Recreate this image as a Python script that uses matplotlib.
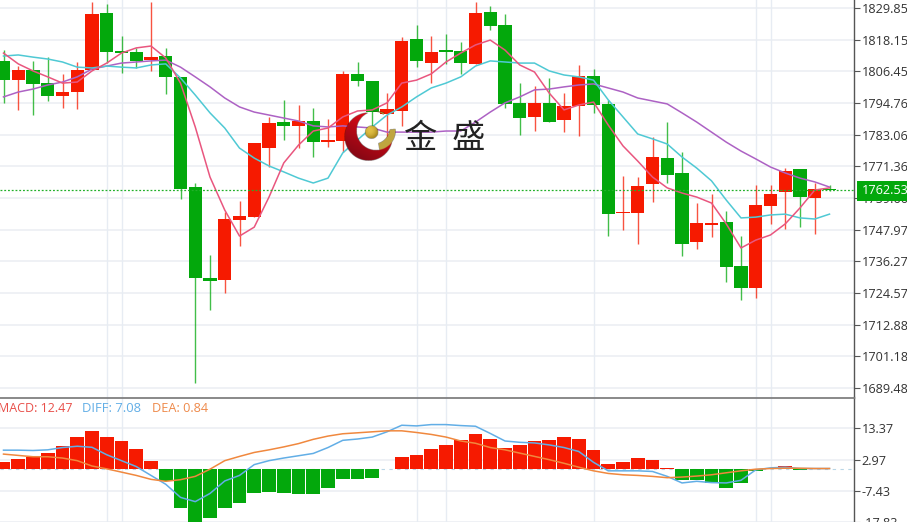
import numpy as np
import matplotlib
matplotlib.use("Agg")
import matplotlib.pyplot as plt

# candles, oldest first
opens = [1810.3, 1803.2, 1806.9, 1802.1, 1797.3, 1798.8, 1806.9, 1828.0, 1814.0, 1813.6, 1810.6, 1812.1, 1804.4, 1763.7, 1730.1,
         1729.4, 1751.5, 1752.6, 1778.1, 1787.7, 1786.3, 1788.1, 1780.3, 1780.7, 1805.5, 1802.9, 1790.7, 1791.8, 1818.4, 1809.5,
         1814.3, 1814.0, 1809.2, 1828.4, 1823.6, 1794.8, 1789.6, 1794.8, 1788.5, 1793.6, 1804.7, 1794.4, 1754.1, 1754.1, 1764.8,
         1774.4, 1768.9, 1743.4, 1749.7, 1750.8, 1734.5, 1726.4, 1756.7, 1761.9, 1770.4, 1759.7, 1763.0]
closes = [1803.2, 1806.9, 1801.8, 1797.3, 1798.8, 1806.9, 1827.6, 1813.6, 1813.2, 1810.3, 1811.7, 1804.4, 1763.0, 1730.1, 1729.0,
          1751.9, 1753.0, 1780.0, 1787.4, 1786.3, 1788.1, 1780.3, 1781.1, 1805.5, 1802.9, 1791.4, 1792.5, 1817.7, 1810.3, 1813.6,
          1813.6, 1809.5, 1828.0, 1823.2, 1794.4, 1789.2, 1794.8, 1787.7, 1793.6, 1804.7, 1794.0, 1753.7, 1754.5, 1764.1, 1774.8,
          1768.2, 1742.7, 1750.4, 1750.4, 1734.2, 1726.4, 1757.1, 1761.1, 1769.6, 1760.0, 1763.0, 1762.53]
highs = [1814.3, 1808.4, 1810.3, 1811.7, 1805.5, 1809.9, 1832.1, 1831.3, 1819.5, 1815.1, 1832.1, 1815.1, 1804.4, 1765.2, 1738.6,
         1754.5, 1758.5, 1780.0, 1789.6, 1795.9, 1794.0, 1792.9, 1788.8, 1806.6, 1809.9, 1802.9, 1798.4, 1819.1, 1823.6, 1819.5,
         1820.2, 1817.3, 1832.1, 1830.6, 1827.6, 1802.1, 1801.0, 1804.0, 1798.4, 1808.8, 1807.3, 1795.9, 1767.8, 1767.4, 1782.2,
         1787.7, 1776.6, 1757.8, 1761.1, 1754.9, 1745.6, 1764.5, 1764.5, 1770.7, 1770.4, 1765.2, 1764.5]
lows = [1794.8, 1792.2, 1790.3, 1795.5, 1792.9, 1792.5, 1806.9, 1809.5, 1805.8, 1807.7, 1806.6, 1798.1, 1759.3, 1691.3, 1718.3,
        1724.6, 1741.9, 1752.6, 1771.1, 1781.1, 1778.1, 1774.8, 1778.5, 1776.6, 1801.0, 1785.9, 1781.1, 1786.3, 1808.0, 1802.1,
        1809.2, 1805.5, 1809.2, 1821.7, 1792.9, 1782.9, 1784.4, 1787.7, 1784.0, 1782.6, 1791.1, 1745.6, 1747.8, 1742.7, 1758.2,
        1765.2, 1738.2, 1740.8, 1745.3, 1728.6, 1722.0, 1722.7, 1750.1, 1748.2, 1748.9, 1746.4, 1762.2]

ma5 = [1813.2, 1809.2, 1806.6, 1804.4, 1802.1, 1802.5, 1806.6, 1809.5, 1813.2, 1815.1, 1815.8, 1811.4, 1802.1, 1785.9, 1767.4,
       1755.2, 1745.6, 1748.9, 1760.0, 1772.6, 1779.2, 1784.4, 1785.5, 1789.6, 1791.8, 1792.2, 1794.8, 1802.1, 1803.2, 1805.5,
       1809.9, 1813.2, 1816.2, 1818.0, 1814.3, 1808.8, 1806.2, 1798.4, 1792.2, 1794.0, 1795.1, 1786.6, 1778.9, 1773.3, 1767.4,
       1763.4, 1761.5, 1760.0, 1757.8, 1750.1, 1741.2, 1744.1, 1746.0, 1750.1, 1756.0, 1762.6, 1763.4]
ma10 = [1812.1, 1812.5, 1811.7, 1811.0, 1809.9, 1808.0, 1807.7, 1808.4, 1808.0, 1807.7, 1808.8, 1809.2, 1804.0, 1797.7, 1791.1,
        1785.5, 1778.1, 1774.4, 1771.5, 1769.3, 1767.0, 1765.2, 1767.0, 1776.3, 1781.1, 1785.9, 1790.3, 1793.3, 1797.0, 1800.3,
        1802.1, 1804.4, 1808.4, 1810.3, 1809.9, 1809.5, 1809.5, 1806.6, 1805.1, 1804.4, 1803.2, 1795.9, 1789.6, 1783.3, 1781.5,
        1779.6, 1774.8, 1770.7, 1766.0, 1758.9, 1752.3, 1752.6, 1753.4, 1753.7, 1752.3, 1751.9, 1753.7]
ma20 = [1797.0, 1798.8, 1799.9, 1801.4, 1802.5, 1804.4, 1807.3, 1808.4, 1809.5, 1809.9, 1810.3, 1810.6, 1808.0, 1804.4, 1800.7,
        1796.6, 1793.3, 1791.4, 1790.3, 1789.2, 1788.1, 1786.3, 1785.9, 1786.3, 1785.9, 1785.5, 1784.0, 1784.0, 1784.0, 1784.0,
        1784.4, 1784.4, 1787.7, 1791.4, 1794.8, 1797.0, 1799.6, 1799.9, 1800.7, 1801.4, 1801.8, 1800.3, 1798.8, 1796.6, 1795.5,
        1794.4, 1791.1, 1787.7, 1784.0, 1780.3, 1777.0, 1774.1, 1771.1, 1768.9, 1767.0, 1765.6, 1763.7]

macd = [2.19, 3.28, 3.72, 5.03, 7.54, 10.38, 12.47, 10.49, 9.18, 6.56, 2.62, -4.26, -13.0, -18.7, -16.4,
        -13.1, -11.4, -8.1, -7.76, -8.31, -8.42, -8.42, -6.56, -3.5, -3.5, -3.17, -0.22, 3.83, 4.59, 6.45,
        7.98, 9.4, 11.37, 9.73, 7.0, 7.76, 9.18, 9.51, 10.49, 9.95, 6.01, 1.53, 2.3, 3.5, 2.84,
        0.05, -3.72, -3.72, -4.92, -6.45, -4.81, -0.66, 0.22, 0.77, -0.33, -0.11, -0.05]
diff = [6.12, 6.12, 6.01, 6.23, 7.0, 7.43, 7.08, 4.59, 2.62, 0.66, -2.3, -5.25, -9.62, -11.04, -8.31,
        -4.15, -2.3, 1.31, 2.62, 3.5, 4.26, 5.03, 7.0, 9.4, 9.84, 10.49, 12.24, 14.43, 14.21, 14.65,
        14.65, 14.32, 14.1, 11.7, 9.18, 8.74, 8.53, 7.87, 7.0, 5.68, 2.08, -0.77, -0.77, -0.77, -0.98,
        -2.62, -4.81, -4.26, -4.7, -4.81, -3.93, -0.44, 0.22, 0.44, 0.0, 0.0, 0.0]
dea = [4.81, 4.37, 3.93, 3.93, 3.5, 2.62, 0.84, -0.11, -1.2, -2.3, -3.61, -4.26, -3.72, -2.62, -0.22,
       2.62, 4.04, 5.36, 6.23, 7.21, 8.31, 9.73, 10.82, 11.59, 11.91, 12.24, 12.57, 12.57, 12.02, 11.37,
       10.49, 9.18, 8.42, 7.0, 6.23, 5.14, 4.04, 2.95, 1.75, 0.44, -0.77, -1.64, -2.08, -2.3, -2.62,
       -3.06, -2.84, -2.51, -2.08, -1.42, -0.77, -0.22, 0.0, 0.1, 0.1, 0.0, 0.0]

price_ticks = [1829.85, 1818.15, 1806.45, 1794.76, 1783.06, 1771.36, 1759.66, 1747.97, 1736.27, 1724.57, 1712.88, 1701.18, 1689.48]
macd_ticks = [13.37, 2.97, -7.43, -17.83]
vgrid_idx = [7, 8, 28, 30, 40, 51, 52]
last_price = 1762.53

RED = '#f61a00'
GREEN = '#03a80c'
GRID = '#eceff3'
FONT = 'Open Sans'

plt.rcParams['font.family'] = FONT

W, H = 907, 522
SPLIT = 397.5
AXIS_X = 854
fig = plt.figure(figsize=(W / 100, H / 100), dpi=100)
ax = fig.add_axes([0, 1 - SPLIT / H, AXIS_X / W, SPLIT / H])
ax2 = fig.add_axes([0, 0, AXIS_X / W, 1 - SPLIT / H])

x = np.arange(len(opens))
xlim = (-3.5 / 14.75, (AXIS_X - 3.5) / 14.75)

# ---- price panel ----
for i in x:
    col = RED if closes[i] >= opens[i] else GREEN
    ax.vlines(i, lows[i], highs[i], color=col, linewidth=1.0, alpha=0.75, zorder=3)
    ax.bar(i, abs(closes[i] - opens[i]), bottom=min(opens[i], closes[i]), width=0.9, color=col, zorder=4)

ax.plot(x, ma20, color='#ad62c4', linewidth=1.1, zorder=5)
ax.plot(x, ma10, color='#4fc9d4', linewidth=1.1, zorder=5)
ax.plot(x, ma5, color='#e9567f', linewidth=1.1, zorder=5)
ax.axhline(last_price, color='#22b02a', linestyle=(0, (1.5, 1.5)), linewidth=0.9, zorder=6)

ax.set_xlim(xlim)
ax.set_ylim(1832.8 - 0.3694 * SPLIT, 1832.8)
ax.set_yticks(price_ticks)
ax.set_yticklabels([f'{t:.2f}' for t in price_ticks])

# ---- macd panel ----
bar_cols = [RED if v >= 0 else GREEN for v in macd]
ax2.bar(x, macd, width=0.92, color=bar_cols, zorder=3)
ax2.axhline(0, color='#b9d6e6', linestyle=(0, (3, 4)), linewidth=0.8, zorder=2)
ax2.plot(x, diff, color='#62aee6', linewidth=1.1, zorder=4)
ax2.plot(x, dea, color='#f0883e', linewidth=1.1, zorder=5)
ax2.set_xlim(xlim)
ax2.set_ylim(-0.328 * (H - 469.7), 0.328 * (469.7 - SPLIT))
ax2.set_yticks(macd_ticks)
ax2.set_yticklabels([f'{t:.2f}' for t in macd_ticks])

for a in (ax, ax2):
    a.yaxis.tick_right()
    a.tick_params(axis='y', length=4, width=0.8, color='#555555', labelsize=9.1, pad=1.5, labelcolor='#333333')
    a.set_xticks([])
    a.grid(False)
    a.set_axisbelow(True)
    for t in a.get_yticks():
        a.axhline(t, color=GRID, linewidth=1.2, zorder=1)
    for i in vgrid_idx:
        a.axvline(i, color='#e7ecf3', linewidth=1.0, zorder=1)
    for s in ('left', 'top', 'bottom'):
        a.spines[s].set_visible(False)
    a.spines['right'].set_color('#555555')
    a.spines['right'].set_linewidth(1.0)
    a.patch.set_alpha(0)

# separator between the panels, drawn in pixel coords below
over = fig.add_axes([0, 0, 1, 1], zorder=10)
over.set_xlim(0, W)
over.set_ylim(H, 0)
over.axis('off')
over.patch.set_alpha(0)
over.plot([0, AXIS_X], [SPLIT, SPLIT], color='#808080', linewidth=1.3)

# last price tag
over.fill_between([857, W], 181, 200.5, color='#03a80c', linewidth=0)
over.text(861.5, 191, f'{last_price:.2f}', color='white', fontsize=9.1, ha='left', va='center')

# macd legend
over.text(-2, 408.5, 'MACD: 12.47', color='#e8504a', fontsize=9.0, va='center')
over.text(82, 408.5, 'DIFF: 7.08', color='#62aee6', fontsize=9.4, va='center')
over.text(152, 408.5, 'DEA: 0.84', color='#ee8a4b', fontsize=9.2, va='center')

# watermark logo
gx, gy = np.meshgrid(np.arange(340, 400, 0.25), np.arange(108, 166, 0.25))
outer = (gx - 368.5) ** 2 + (gy - 136.5) ** 2 <= 24 ** 2
inner = (gx - 376) ** 2 + (gy - 130.5) ** 2 <= 19.5 ** 2
img = np.zeros(gx.shape + (4,))
shade = np.clip((gy - 112) / 50 + (395 - gx) / 90 - 0.4, 0, 1)
crescent = outer & ~inner
img[crescent, 0] = 0.85 - 0.35 * shade[crescent]
img[crescent, 1] = 0.03
img[crescent, 2] = 0.08
img[crescent, 3] = 1
ang = np.degrees(np.arctan2(gy - 130.5, gx - 376))
ring = inner & ((gx - 373.5) ** 2 + (gy - 127.5) ** 2 > 18 ** 2 - 60)
gold = ring & (((ang > -140) & (ang < -65)) | ((ang > -5) & (ang < 80)))
img[gold] = (0.75, 0.65, 0.25, 1)
ball = (gx - 371.5) ** 2 + (gy - 132) ** 2 <= 6.5 ** 2
ball_shade = np.clip(1 - ((gx - 370) ** 2 + (gy - 130) ** 2) / 60, 0, 1)
img[ball, 0] = 0.68 + 0.2 * ball_shade[ball]
img[ball, 1] = 0.55 + 0.2 * ball_shade[ball]
img[ball, 2] = 0.12 + 0.15 * ball_shade[ball]
img[ball, 3] = 1
over.imshow(img, extent=(340, 400, 166, 108), aspect='auto', zorder=8, interpolation='bilinear')
over.set_xlim(0, W)
over.set_ylim(H, 0)
cjk = ['Noto Sans CJK SC', 'DejaVu Sans']
over.text(420, 138, '金', family=cjk, fontsize=24, color='#222222', ha='center', va='center', zorder=9)
over.text(468, 138, '盛', family=cjk, fontsize=24, color='#222222', ha='center', va='center', zorder=9)

plt.savefig('out.png', dpi=100)
